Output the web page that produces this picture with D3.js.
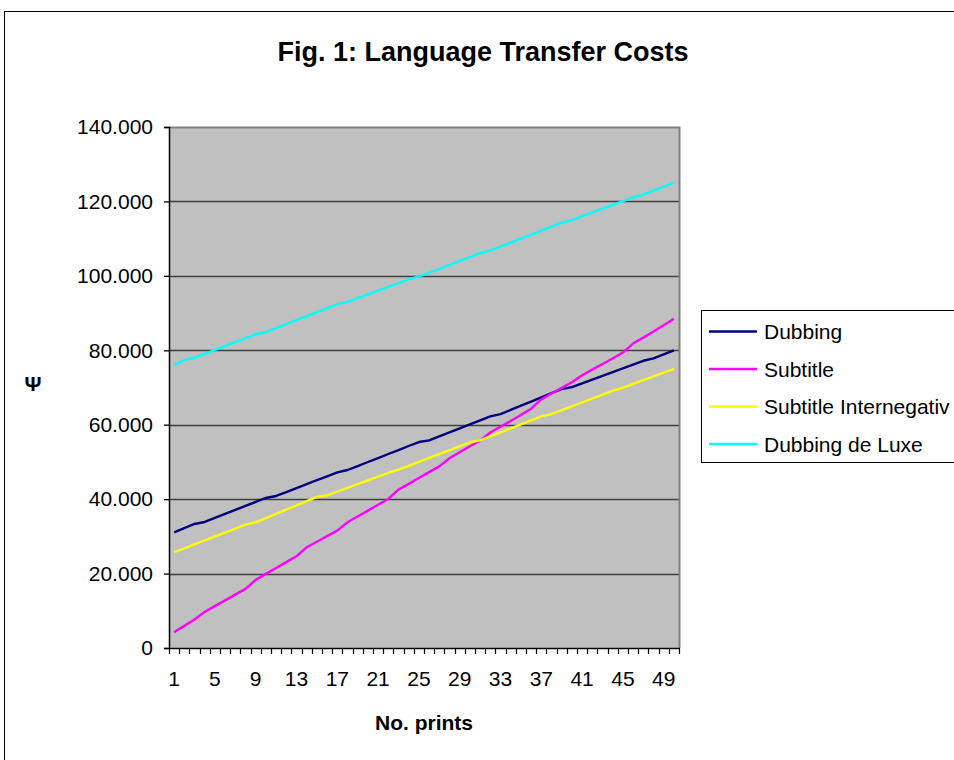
<!DOCTYPE html>
<html>
<head>
<meta charset="utf-8">
<script src="https://cdn.jsdelivr.net/npm/d3@7"></script>
<style>
  html, body { margin: 0; padding: 0; background: #fff; }
  svg { display: block; font-family: "Liberation Sans", Arial, sans-serif; }
</style>
</head>
<body>
<svg id="chart" width="954" height="760"></svg>
<script>
// Number of prints (categories)
const prints = [1,2,3,4,5,6,7,8,9,10,11,12,13,14,15,16,17,18,19,20,21,22,23,24,25,
  26,27,28,29,30,31,32,33,34,35,36,37,38,39,40,41,42,43,44,45,46,47,48,49,50];

// Cost series (€)
const dubbing = [31100,32200,33330,33870,34940,36020,37090,38160,39240,40310,
  40850,41910,42970,44030,45080,46140,47200,47830,48900,49980,
  51050,52130,53200,54280,55350,55800,56870,57950,59020,60090,
  61170,62240,62860,63980,65100,66220,67340,68460,69580,70110,
  71120,72130,73140,74150,75160,76170,77180,77810,78900,80000];

const subtitle = [4250,5950,7650,9710,11250,12800,14340,15880,18300,19910,
  21490,23070,24650,27070,28560,30050,31540,33780,35350,36920,
  38480,40050,42550,44110,45680,47250,48810,51000,52600,54200,
  55700,57900,59450,61000,62600,64300,66800,68400,69900,71400,
  73300,74800,76300,77800,79400,81800,83400,85050,86750,88450];

const subtitleInternegativ = [25730,26790,27850,28910,29970,31030,32090,33150,33780,34910,
  36050,37180,38310,39450,40580,41030,42030,43030,44030,45030,
  46030,47030,47920,48970,50020,51060,52110,53160,54210,55260,
  55790,56870,57940,59020,60090,61170,62240,62860,63910,64950,
  66000,67040,68090,69130,69930,70950,71970,72990,74010,75030];

const dubbingDeLuxe = [76100,77400,78000,79050,80100,81150,82200,83250,84300,84900,
  85970,87040,88110,89180,90250,91320,92400,93000,94020,95030,
  96050,97070,98080,99100,99800,100850,101900,102950,104000,105050,
  106100,106800,107870,108940,110010,111090,112160,113230,114300,115000,
  116020,117030,118050,119070,120080,121100,121800,122900,124000,125050];

const seriesNames = ["Dubbing", "Subtitle", "Subtitle Internegativ", "Dubbing de Luxe"];
const seriesColors = ["#000080", "#FF00FF", "#FFFF00", "#00FFFF"];
const seriesValues = [dubbing, subtitle, subtitleInternegativ, dubbingDeLuxe];

const yTicks = [0, 20000, 40000, 60000, 80000, 100000, 120000, 140000];
const xTickLabels = [1, 5, 9, 13, 17, 21, 25, 29, 33, 37, 41, 45, 49];

const titleText = "Fig. 1: Language Transfer Costs";
const xTitle = "No. prints";
const yTitle = "Ψ";

// ---- layout ----
const svg = d3.select("#chart");
const plot = { left: 169, right: 679, top: 127, bottom: 648 };

const x = d3.scaleBand().domain(prints).range([plot.left, plot.right]).padding(0);
const bw = x.bandwidth();
const y = d3.scaleLinear().domain([0, 140000]).range([plot.bottom, plot.top]);

const locale = d3.formatLocale({ decimal: ",", thousands: ".", grouping: [3], currency: ["", "€"] });
const fmt = locale.format(",d");

// Chart area frame
svg.append("rect")
  .attr("x", 4.5).attr("y", 11.5)
  .attr("width", 980).attr("height", 800)
  .attr("fill", "#fff").attr("stroke", "#000").attr("stroke-width", 1);

// Plot background
svg.append("rect")
  .attr("x", plot.left).attr("y", plot.top)
  .attr("width", plot.right - plot.left).attr("height", plot.bottom - plot.top)
  .attr("fill", "#C0C0C0");

// Gridlines
svg.append("g").selectAll("line")
  .data(yTicks.filter(t => t > 0 && t < 140000))
  .join("line")
  .attr("x1", plot.left).attr("x2", plot.right)
  .attr("y1", d => Math.round(y(d)) + 0.5).attr("y2", d => Math.round(y(d)) + 0.5)
  .attr("stroke", "#404040").attr("stroke-width", 1.3);

// Plot border (top / right)
svg.append("path")
  .attr("d", `M${plot.left},${plot.top + 0.5}H${plot.right + 0.5}V${plot.bottom}`)
  .attr("fill", "none").attr("stroke", "#808080").attr("stroke-width", 2);

// Series lines
const line = d3.line()
  .x((d, i) => x(prints[i]) + bw / 2)
  .y(d => y(d));

svg.append("g").selectAll("path")
  .data(seriesValues)
  .join("path")
  .attr("d", d => line(d))
  .attr("fill", "none")
  .attr("stroke", (d, i) => seriesColors[i])
  .attr("stroke-width", 2.4)
  .attr("stroke-linejoin", "round");

// Y axis
const yAxis = d3.axisLeft(y).tickValues(yTicks).tickFormat(fmt).tickSize(5).tickPadding(11);
const gy = svg.append("g").attr("transform", `translate(${plot.left},0)`).call(yAxis);
gy.select(".domain").attr("stroke", "#000").attr("stroke-width", 1.5);
gy.selectAll(".tick line").attr("stroke", "#000").attr("stroke-width", 1.3);
gy.selectAll(".tick text").attr("font-size", 21).attr("fill", "#000")
  .attr("font-family", '"Liberation Sans", Arial, sans-serif');

// X axis: labels every 4th print, tick marks at every category boundary
const xAxis = d3.axisBottom(x).tickValues(xTickLabels).tickSize(0).tickPadding(23);
const gx = svg.append("g").attr("transform", `translate(0,${plot.bottom})`).call(xAxis);
gx.select(".domain").remove();
gx.selectAll(".tick text").attr("font-size", 21).attr("fill", "#000")
  .attr("font-family", '"Liberation Sans", Arial, sans-serif');

const boundaries = prints.map(p => x(p)).concat([plot.right]);
svg.append("g").selectAll("line")
  .data(boundaries)
  .join("line")
  .attr("x1", d => Math.round(d) + 0.5).attr("x2", d => Math.round(d) + 0.5)
  .attr("y1", plot.bottom).attr("y2", plot.bottom + 6)
  .attr("stroke", "#000").attr("stroke-width", 1.2);
svg.append("line")
  .attr("x1", plot.left).attr("x2", plot.right + 1)
  .attr("y1", plot.bottom + 0.5).attr("y2", plot.bottom + 0.5)
  .attr("stroke", "#000").attr("stroke-width", 1.5);

// Titles
svg.append("text")
  .attr("x", 483).attr("y", 61)
  .attr("text-anchor", "middle")
  .attr("font-size", 27).attr("font-weight", "bold")
  .text(titleText);

svg.append("text")
  .attr("x", (plot.left + plot.right) / 2).attr("y", 730)
  .attr("text-anchor", "middle")
  .attr("font-size", 21).attr("font-weight", "bold")
  .text(xTitle);

svg.append("text")
  .attr("x", 33).attr("y", 391)
  .attr("text-anchor", "middle")
  .attr("font-size", 21).attr("font-weight", "bold")
  .text(yTitle);

// Legend
const legend = svg.append("g");
legend.append("rect")
  .attr("x", 701.5).attr("y", 310.5)
  .attr("width", 270).attr("height", 152)
  .attr("fill", "#fff").attr("stroke", "#000").attr("stroke-width", 1);

const rows = legend.selectAll("g.row")
  .data(seriesNames)
  .join("g")
  .attr("class", "row")
  .attr("transform", (d, i) => `translate(0,${331.5 + i * 37.5})`);
rows.append("line")
  .attr("x1", 709).attr("x2", 757)
  .attr("stroke", (d, i) => seriesColors[i]).attr("stroke-width", 2.4);
rows.append("text")
  .attr("x", 764).attr("dy", "0.36em")
  .attr("font-size", 21)
  .text(d => d);
</script>
</body>
</html>
